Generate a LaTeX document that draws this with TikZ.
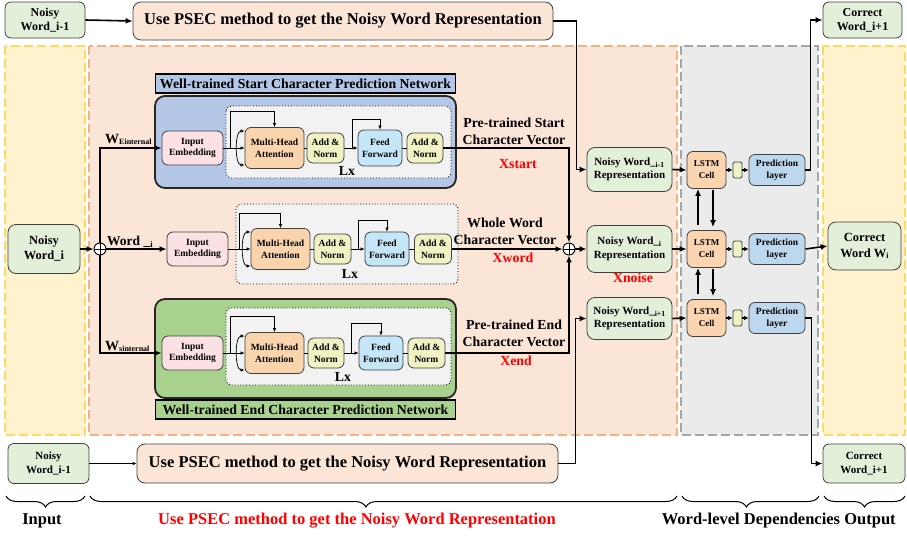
\documentclass[tikz,border=0pt]{standalone}
\usepackage{fontspec}
\setmainfont{Liberation Serif}
\usetikzlibrary{arrows.meta,decorations.pathreplacing,calc}

\definecolor{nodegreen}{HTML}{E2F0D9}
\definecolor{psecfill}{HTML}{FBE5D6}
\definecolor{edgegray}{HTML}{404040}
\definecolor{inyellow}{HTML}{FFF2CC}
\definecolor{inyellowedge}{HTML}{FFD966}
\definecolor{peachedge}{HTML}{F4B183}
\definecolor{wldgray}{HTML}{EBEBEB}
\definecolor{wldedge}{HTML}{A6A6A6}
\definecolor{netblue}{HTML}{B4C7E7}
\definecolor{netgreen}{HTML}{A9D18E}
\definecolor{innergray}{HTML}{F2F2F2}
\definecolor{embpink}{HTML}{FBE0E4}
\definecolor{mhaorange}{HTML}{FAD4AC}
\definecolor{addnorm}{HTML}{F0F2C4}
\definecolor{ffblue}{HTML}{C5E6F7}
\definecolor{lstmorange}{HTML}{FBD5B0}
\definecolor{predblue}{HTML}{BDD7EE}
\definecolor{labelred}{HTML}{FF0000}

\newcommand\fsXL{\fontsize{16.5}{19}\selectfont}
\newcommand\fsL{\fontsize{13.8}{17}\selectfont}
\newcommand\fsM{\fontsize{12}{14}\selectfont}
\newcommand\fsR{\fontsize{11}{13.5}\selectfont}
\newcommand\fsS{\fontsize{9.5}{11.5}\selectfont}

\begin{document}
\begin{tikzpicture}[x=1pt,y=-1pt,
  box/.style={draw=edgegray,line width=0.8pt,rounded corners=6pt,align=center,inner sep=0pt},
  wh/.style 2 args={minimum width=#1pt,minimum height=#2pt},
  blk/.style={box,font=\bfseries\fsS},
  conn/.style={line width=1.6pt,-{Latex[length=7pt,width=6pt]}},
  shortconn/.style={line width=1.4pt,-{Latex[length=4.5pt,width=4.5pt]}},
  plainline/.style={line width=1.6pt},
  thinline/.style={line width=0.7pt},
  thinconn/.style={line width=0.7pt,-{Latex[length=4pt,width=3.5pt]}},
  qkv/.style={line width=0.7pt,{Latex[length=4pt,width=3.5pt]}-{Latex[length=4pt,width=3.5pt]}},
  region/.style={line width=1.3pt,dash pattern=on 9pt off 4pt},
  netframe/.style={line width=1.8pt,draw=black!85,rounded corners=10pt},
  nettitle/.style={draw=black,line width=1.8pt,inner sep=0pt,font=\bfseries\fsL},
  inner/.style={dotted,line width=0.9pt,fill=innergray,rounded corners=5pt},
  oplus/.style={circle,draw,line width=0.9pt,minimum size=12pt,inner sep=0pt,fill=white,
    path picture={\draw[line width=0.7pt] (path picture bounding box.north) -- (path picture bounding box.south)
      (path picture bounding box.west) -- (path picture bounding box.east);}},
  lbl/.style={font=\bfseries\fsL,align=center,inner sep=0pt},
  redlbl/.style={font=\bfseries\fsL,text=labelred,inner sep=0pt},
  bottomlbl/.style={font=\bfseries\fsXL,inner sep=0pt},
  brc/.style={decorate,line width=1pt,decoration={brace,mirror,amplitude=11pt,aspect=#1}},
  brc/.default=0.5
]
\useasboundingbox (0,0) rectangle (907,538);

% stage regions
\draw[region,draw=inyellowedge,fill=inyellow] (5,46) rectangle (85,435);
\draw[region,draw=peachedge,fill=psecfill] (89,46) rectangle (677,435);
\draw[region,draw=wldedge,fill=wldgray] (681,46) rectangle (818,435);
\draw[region,draw=inyellowedge,fill=inyellow] (823,46) rectangle (905,435);

% top row
\node[box,fill=nodegreen,wh={80}{36},font=\bfseries\fsM] (nwtop) at (45,20) {Noisy\\Word\_i-1};
\node[box,fill=psecfill,wh={420}{38},rounded corners=8pt,font=\bfseries\fsXL] (psectop) at (343,21) {Use PSEC method to get the Noisy Word Representation};
\node[box,fill=nodegreen,wh={79}{36},font=\bfseries\fsM] (cwtop) at (862.5,20) {Correct\\Word\_i+1};
\draw[conn] (nwtop.east) -- (psectop.west);

% bottom row
\node[box,fill=nodegreen,wh={81}{40},font=\bfseries\fsR] (nwbot) at (48.5,463.5) {Noisy\\Word\_i-1};
\node[box,fill=psecfill,wh={421}{39},rounded corners=8pt,font=\bfseries\fsXL] (psecbot) at (347.5,463.5) {Use PSEC method to get the Noisy Word Representation};
\node[box,fill=nodegreen,wh={82}{39},font=\bfseries\fsR] (cwbot) at (864,463.5) {Correct\\Word\_i+1};
\draw[thinconn,line width=0.9pt] (nwbot.east) -- (psecbot.west);

% input word and split
\node[box,fill=nodegreen,wh={72}{49},rounded corners=8pt,font=\bfseries\fontsize{12.5}{15}\selectfont] (nwi) at (44,249) {Noisy\\Word\_i};
\node[oplus] (c1) at (100,249) {};
\draw[conn] (nwi.east) -- (c1.west);

% ---- start character network ----
\draw[netframe,fill=netblue] (155,96) rectangle (456,188);
\node[nettitle,fill=netblue,wh={300}{19}] (title1) at (305.5,83.5) {Well-trained Start Character Prediction Network};
\draw[inner] (226,106) rectangle (451,178);
\node[blk,fill=embpink,wh={61}{34}] (ie1) at (192.5,148) {Input\\Embedding};
\node[blk,fill=mhaorange,wh={59}{41}] (mha1) at (274.5,148) {Multi-Head\\Attention};
\node[blk,fill=addnorm,wh={37}{30}] (an1a) at (325.5,148) {Add \&\\Norm};
\node[blk,fill=ffblue,wh={44}{36}] (ff1) at (380,148) {Feed\\Forward};
\node[blk,fill=addnorm,wh={36}{30}] (an1b) at (425,148) {Add \&\\Norm};
\node[lbl] (lx1) at (347,171) {Lx};
\coordinate (r1) at (230,148);
\coordinate (f1) at (352,148);
\draw[thinconn] (ie1.east) -- (mha1.west);
\draw[thinconn] (r1) -- ++(0,-37) -| (mha1.north);
\draw[qkv] ([yshift=17pt]mha1.west) .. controls ([xshift=-10pt,yshift=17pt]mha1.west) and ([xshift=-10pt,yshift=-17pt]mha1.west) .. ([yshift=-17pt]mha1.west);
\draw[thinline] (mha1.east) -- (an1a.west);
\draw[thinconn] (an1a.east) -- (ff1.west);
\draw[thinconn] (f1) -- ++(0,-29) -| (ff1.north);
\draw[thinline] (ff1.east) -- (an1b.west);

% ---- whole word network ----
\draw[inner] (236,204) rectangle (458,284);
\node[blk,fill=embpink,wh={61}{34}] (ie2) at (197.5,249) {Input\\Embedding};
\node[blk,fill=mhaorange,wh={59}{41}] (mha2) at (280.5,249) {Multi-Head\\Attention};
\node[blk,fill=addnorm,wh={37}{30}] (an2a) at (332.5,249) {Add \&\\Norm};
\node[blk,fill=ffblue,wh={44}{34}] (ff2) at (387,249) {Feed\\Forward};
\node[blk,fill=addnorm,wh={37}{30}] (an2b) at (433,249) {Add \&\\Norm};
\node[lbl] (lx2) at (350,274) {Lx};
\coordinate (r2) at (239,249);
\coordinate (f2) at (358,249);
\draw[thinconn] (ie2.east) -- (mha2.west);
\draw[thinconn] (r2) -- ++(0,-36) -| (mha2.north);
\draw[qkv] ([yshift=17pt]mha2.west) .. controls ([xshift=-10pt,yshift=17pt]mha2.west) and ([xshift=-10pt,yshift=-17pt]mha2.west) .. ([yshift=-17pt]mha2.west);
\draw[thinline] (mha2.east) -- (an2a.west);
\draw[thinconn] (an2a.east) -- (ff2.west);
\draw[thinconn] (f2) -- ++(0,-29) -| (ff2.north);
\draw[thinline] (ff2.east) -- (an2b.west);

% ---- end character network ----
\draw[netframe,fill=netgreen] (155,299) rectangle (456,398);
\node[nettitle,fill=netgreen,wh={300}{19}] (title3) at (305.5,409.5) {Well-trained End Character Prediction Network};
\draw[inner] (226,308) rectangle (451,385);
\node[blk,fill=embpink,wh={61}{34}] (ie3) at (192.5,353) {Input\\Embedding};
\node[blk,fill=mhaorange,wh={59}{41}] (mha3) at (274.5,353) {Multi-Head\\Attention};
\node[blk,fill=addnorm,wh={36}{30}] (an3a) at (326,353) {Add \&\\Norm};
\node[blk,fill=ffblue,wh={44}{34}] (ff3) at (381,353) {Feed\\Forward};
\node[blk,fill=addnorm,wh={37}{30}] (an3b) at (426.5,353) {Add \&\\Norm};
\node[lbl] (lx3) at (343,377) {Lx};
\coordinate (r3) at (230,353);
\coordinate (f3) at (351,353);
\draw[thinconn] (ie3.east) -- (mha3.west);
\draw[thinconn] (r3) -- ++(0,-37) -| (mha3.north);
\draw[qkv] ([yshift=17pt]mha3.west) .. controls ([xshift=-10pt,yshift=17pt]mha3.west) and ([xshift=-10pt,yshift=-17pt]mha3.west) .. ([yshift=-17pt]mha3.west);
\draw[thinline] (mha3.east) -- (an3a.west);
\draw[thinconn] (an3a.east) -- (ff3.west);
\draw[thinconn] (f3) -- ++(0,-30) -| (ff3.north);
\draw[thinline] (ff3.east) -- (an3b.west);

% split of the input word into three streams
\draw[conn] (c1.north) |- (ie1.west);
\draw[conn] (c1.east) -- (ie2.west);
\draw[conn] (c1.south) |- (ie3.west);
\node[anchor=base west,inner sep=0pt,font=\bfseries] (wein) at (105,143) {\fontsize{14}{15}\selectfont W\raisebox{-1.5pt}{\fontsize{8}{9}\selectfont Einternal}};
\node[anchor=base west,inner sep=0pt,font=\bfseries] (wordi) at (107,245) {\fontsize{13.5}{15}\selectfont Word \_\raisebox{-2pt}{\fontsize{8.5}{9}\selectfont i}};
\node[anchor=base west,inner sep=0pt,font=\bfseries] (wsin) at (105,350) {\fontsize{14}{15}\selectfont W\raisebox{-1.5pt}{\fontsize{8}{9}\selectfont sinternal}};

% merging the three character vectors
\node[oplus] (c2) at (569,249) {};
\draw[conn] (an1b.east) -| (c2.north);
\draw[conn] (an2b.east) -- (c2.west);
\draw[conn] (an3b.east) -| (c2.south);
\node[lbl] (vstart) at (514,131.5) {Pre-trained Start\\Character Vector};
\node[redlbl] (xstart) at (518,164) {Xstart};
\node[lbl] (vword) at (505,231.5) {Whole Word\\Character Vector};
\node[redlbl] (xword) at (513,258) {Xword};
\node[lbl] (vend) at (514,333) {Pre-trained End\\Character Vector};
\node[redlbl] (xend) at (516,361) {Xend};

% noisy word representations
\node[box,fill=nodegreen,wh={85}{44},rounded corners=8pt,font=\bfseries\fsR] (nwr1) at (629.5,169.5) {Noisy Word\_\textsubscript{i-1}\\Representation};
\node[box,fill=nodegreen,wh={85}{47},rounded corners=8pt,font=\bfseries\fsR] (nwr2) at (629.5,249) {Noisy Word\_\textsubscript{i}\\Representation};
\node[box,fill=nodegreen,wh={85}{42},rounded corners=8pt,font=\bfseries\fsR] (nwr3) at (629.5,318.5) {Noisy Word\_\textsubscript{i+1}\\Representation};
\node[redlbl] (xnoise) at (633,278) {Xnoise};
\draw[conn] (c2.east) -- (nwr2.west);
\draw[conn] (psectop.east) -- ++(23,0) |- (nwr1.west);
\draw[conn] (psecbot.east) -- ++(17,0) |- (nwr3.west);

% word-level dependencies
\foreach \i/\y in {1/170,2/249,3/318}{
  \node[box,fill=lstmorange,wh={39}{37},font=\bfseries\fontsize{9}{12}\selectfont] (ls\i) at (706.5,\y) {LSTM\\Cell};
  \node[box,fill=addnorm,wh={9}{16},rounded corners=1.5pt] (sm\i) at (737.5,\y) {};
  \node[box,fill=predblue,wh={56}{31},font=\bfseries\fsS] (pr\i) at (777,\y) {Prediction\\layer};
  \draw[conn] (nwr\i.east) -- (ls\i.west);
  \draw[shortconn] (ls\i.east) -- (sm\i.west);
  \draw[shortconn] (sm\i.east) -- (pr\i.west);
}
\draw[conn,shorten <=5pt] ([xshift=-8.5pt]ls2.north) -- ([xshift=-8.5pt]ls1.south);
\draw[conn,shorten <=1pt,shorten >=3pt] ([xshift=6.5pt]ls1.south) -- ([xshift=6.5pt]ls2.north);
\draw[conn,shorten <=5pt] ([xshift=-8.5pt]ls3.north) -- ([xshift=-8.5pt]ls2.south);
\draw[conn,shorten <=1pt,shorten >=3pt] ([xshift=6.5pt]ls2.south) -- ([xshift=6.5pt]ls3.north);

% outputs
\node[box,fill=nodegreen,wh={73}{48},rounded corners=8pt,font=\bfseries\fontsize{12.5}{16}\selectfont] (cwi) at (864.5,246) {Correct\\Word W\raisebox{-1.5pt}{\fontsize{8}{9}\selectfont i}};
\draw[conn] (pr1.east) -- ++(5,0) |- (cwtop.west);
\draw[conn] (pr2.east) -- (cwi.west);
\draw[conn] (pr3.east) -- ++(6,0) |- (cwbot.west);

% stage braces and captions
\draw[brc] (6,496) -- (85,496);
\draw[brc=0.47] (90,496) -- (677,496);
\draw[brc=0.47] (682,496) -- (819,496);
\draw[brc] (824,496) -- (905,496);
\node[bottomlbl] (capin) at (42,521) {Input};
\node[bottomlbl,text=labelred] (cappsec) at (357,521) {Use PSEC method to get the Noisy Word Representation};
\node[bottomlbl] (capwld) at (751,521) {Word-level Dependencies};
\node[bottomlbl] (capout) at (870,521) {Output};
\end{tikzpicture}
\end{document}
